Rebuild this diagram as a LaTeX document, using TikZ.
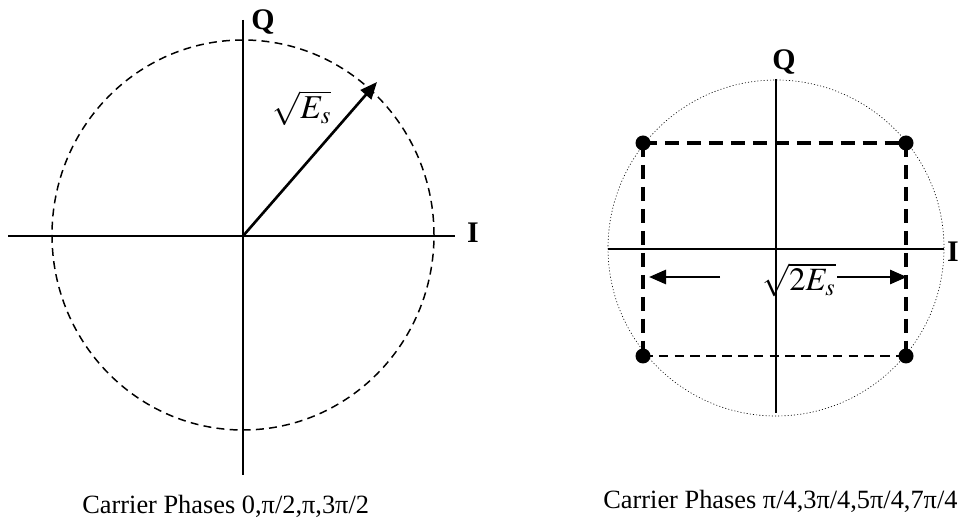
\documentclass[tikz,border=0pt]{standalone}
\usepackage{mathptmx}
\usepackage{fontspec}
\setmainfont{Liberation Serif}
\usetikzlibrary{arrows.meta}

\tikzset{
	axis/.style={line width=0.85pt},
	axislabel/.style={font=\fontsize{17}{20}\selectfont\bfseries, inner sep=0pt, anchor=base},
	caption/.style={font=\fontsize{15}{18}\selectfont, inner sep=0pt, anchor=base west},
	amplitude/.style={font=\fontsize{19}{22}\selectfont, inner sep=1pt},
	dot/.style={circle, fill=black, inner sep=0pt, minimum size=0.3cm},
	bigdash/.style={line width=1.8pt, dash pattern=on 8pt off 4.5pt},
	smalldash/.style={line width=1.5pt, dash pattern=on 5.5pt off 3.5pt},
	vec/.style={line width=1.6pt, -{Triangle[length=0.34cm, width=0.28cm]}}
}

\begin{document}
\begin{tikzpicture}
	\useasboundingbox (0, 0) rectangle (19.2, 10.42);

	% Left constellation
	\coordinate (o1) at (4.86, 5.70);
	\coordinate (q1top) at (4.86, 10.02);
	\coordinate (q1bot) at (4.86, 0.92);
	\coordinate (i1left) at (0.16, 5.70);
	\coordinate (i1right) at (9.10, 5.70);
	\draw[line width=0.85pt, dash pattern=on 4.5pt off 3pt] (4.86, 5.72) ellipse (3.82 and 3.9);
	\draw[axis] (q1top) -- (q1bot);
	\draw[axis] (i1left) -- (i1right);
	\node[axislabel] (q1) at (5.26, 9.82) {Q};
	\node[axislabel] (i1) at (9.46, 5.56) {I};

	% Signal vector
	\coordinate (e1) at (7.54, 8.78);
	\draw[vec, line width=1.5pt] (o1) -- (e1);
	\node[amplitude] (amp1) at (6.04, 8.26) {$\sqrt{E_s}$};

	% Right constellation
	\coordinate (o2) at (15.52, 5.44);
	\coordinate (q2top) at (15.52, 8.84);
	\coordinate (q2bot) at (15.52, 2.16);
	\coordinate (i2left) at (12.16, 5.44);
	\coordinate (i2right) at (18.88, 5.44);
	\draw[line width=0.35pt, dash pattern=on 0.6pt off 1.2pt] (15.52, 5.46) circle (3.36);
	\draw[axis, line width=0.7pt] (q2top) -- (q2bot);
	\draw[axis, line width=0.7pt] (i2left) -- (i2right);
	\node[axislabel] (q2) at (15.68, 9.02) {Q};
	\node[axislabel] (i2) at (19.06, 5.18) {I};

	% Signal points
	\node[dot] (s1) at (12.86, 7.56) {};
	\node[dot] (s2) at (18.12, 7.56) {};
	\node[dot] (s3) at (12.86, 3.30) {};
	\node[dot] (s4) at (18.12, 3.30) {};
	\draw[bigdash] (s1.center) -- (s2.center);
	\draw[bigdash] (s1.center) -- (s3.center);
	\draw[bigdash] (s2.center) -- (s4.center);
	\draw[smalldash] (s3.center) -- (s4.center);

	% Distance between points
	\node[amplitude, font=\fontsize{18.5}{22}\selectfont] (amp2) at (15.98, 4.82) {$\sqrt{2E_s}$};
	\coordinate (d1) at (14.40, 4.88);
	\coordinate (d2) at (12.98, 4.88);
	\coordinate (d3) at (16.74, 4.88);
	\coordinate (d4) at (18.14, 4.88);
	\draw[vec] (d1) -- (d2);
	\draw[vec] (d3) -- (d4);

	% Captions
	\node[caption] (cap1) at (1.64, 0.16) {Carrier Phases 0,π/2,π,3π/2};
	\node[caption] (cap2) at (12.06, 0.26) {Carrier Phases π/4,3π/4,5π/4,7π/4};
\end{tikzpicture}
\end{document}
